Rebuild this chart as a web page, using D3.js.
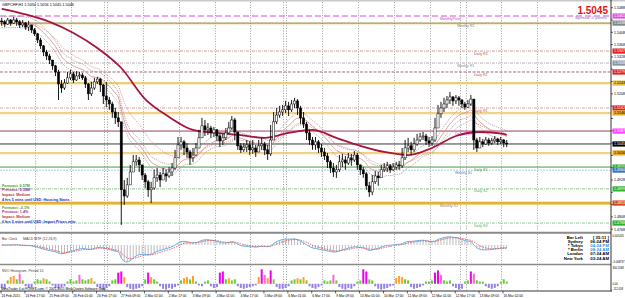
<!DOCTYPE html>
<html><head><meta charset="utf-8">
<script src="https://cdn.jsdelivr.net/npm/d3@7"></script>
<style>html,body{margin:0;padding:0;background:#fff;overflow:hidden}svg{display:block;font-family:"Liberation Sans",Arial,sans-serif}</style>
</head><body><svg id="c" width="625" height="298"></svg>
<script>
// ---------------- DATA ----------------
const title = "GBPCHF,H1  1.5050 1.5056 1.5045 1.5046";
const firstOpen = 1.5445;
const closes = [1.5442,1.5435,1.5448,1.5438,1.5448,1.5442,1.5432,1.5438,1.5425,1.5432,
1.5416,1.5403,1.5383,1.5364,1.5344,1.5331,1.5318,1.5299,1.5279,1.5240,
1.5227,1.5243,1.5260,1.5273,1.5253,1.5266,1.5269,1.5260,1.5240,1.5208,
1.5227,1.5247,1.5256,1.5237,1.5201,1.5188,1.5175,1.5149,1.5130,1.5117,
1.4896,1.4876,1.4912,1.4954,1.4987,1.4993,1.4977,1.4944,1.4922,1.4896,
1.4902,1.4935,1.4944,1.4928,1.4948,1.4941,1.4954,1.4967,1.5000,1.5042,
1.5052,1.5032,1.5019,1.5000,1.5009,1.5032,1.5065,1.5104,1.5091,1.5097,
1.5081,1.5091,1.5071,1.5055,1.5065,1.5081,1.5097,1.5123,1.5084,1.5039,
1.5026,1.5035,1.5042,1.5026,1.5032,1.5019,1.5039,1.5045,1.5026,1.5013,
1.5058,1.5117,1.5139,1.5149,1.5156,1.5169,1.5156,1.5175,1.5185,1.5162,
1.5130,1.5110,1.5081,1.5058,1.5042,1.5052,1.5032,1.5019,1.5006,1.4987,
1.4967,1.4954,1.4961,1.4987,1.4993,1.4983,1.5000,1.4993,1.5009,1.4977,
1.4961,1.4948,1.4909,1.4889,1.4922,1.4941,1.4935,1.4961,1.4967,1.4974,
1.4961,1.4970,1.4977,1.4974,1.5000,1.5032,1.5039,1.5026,1.5045,1.5058,
1.5068,1.5071,1.5055,1.5048,1.5058,1.5097,1.5143,1.5162,1.5175,1.5188,
1.5198,1.5185,1.5195,1.5188,1.5175,1.5165,1.5175,1.5191,1.5058,1.5032,
1.5052,1.5045,1.5058,1.5048,1.5055,1.5061,1.5052,1.5058,1.5048,1.5045];
const highs = [1.5455,1.5448,1.5455,1.5451,1.5458,1.5455,1.5448,1.5448,1.5442,1.5445,
1.5429,1.5422,1.5406,1.5390,1.5367,1.5351,1.5338,1.5318,1.5302,1.5286,
1.5253,1.5256,1.5279,1.5286,1.5279,1.5282,1.5279,1.5276,1.5266,1.5243,
1.5247,1.5260,1.5263,1.5260,1.5240,1.5247,1.5198,1.5182,1.5162,1.5149,
1.5107,1.4928,1.4935,1.4977,1.5009,1.5009,1.5003,1.4967,1.4951,1.4928,
1.4922,1.4961,1.4967,1.4954,1.4967,1.4961,1.4970,1.4983,1.5026,1.5068,
1.5068,1.5058,1.5048,1.5026,1.5032,1.5048,1.5091,1.5130,1.5123,1.5113,
1.5104,1.5100,1.5094,1.5078,1.5078,1.5097,1.5117,1.5136,1.5130,1.5084,
1.5048,1.5048,1.5058,1.5055,1.5058,1.5042,1.5058,1.5065,1.5052,1.5042,
1.5107,1.5149,1.5162,1.5169,1.5172,1.5185,1.5182,1.5188,1.5195,1.5191,
1.5169,1.5149,1.5117,1.5091,1.5068,1.5068,1.5058,1.5045,1.5032,1.5016,
1.4993,1.4983,1.4977,1.5009,1.5013,1.5006,1.5016,1.5013,1.5022,1.5016,
1.4977,1.4970,1.4954,1.4922,1.4944,1.4957,1.4954,1.4977,1.4983,1.4987,
1.4980,1.4983,1.4987,1.4990,1.5032,1.5058,1.5065,1.5052,1.5065,1.5078,
1.5081,1.5084,1.5078,1.5068,1.5071,1.5130,1.5172,1.5182,1.5195,1.5201,
1.5214,1.5201,1.5204,1.5201,1.5191,1.5182,1.5188,1.5204,1.5188,1.5065,
1.5068,1.5061,1.5068,1.5065,1.5065,1.5071,1.5065,1.5068,1.5061,1.5058];
const lows = [1.5429,1.5425,1.5432,1.5429,1.5435,1.5429,1.5422,1.5425,1.5416,1.5412,
1.5406,1.5396,1.5373,1.5354,1.5331,1.5318,1.5305,1.5286,1.5266,1.5188,
1.5211,1.5221,1.5240,1.5253,1.5243,1.5250,1.5256,1.5253,1.5227,1.5188,
1.5201,1.5221,1.5240,1.5214,1.5175,1.5165,1.5156,1.5130,1.5110,1.5100,
1.4782,1.4847,1.4870,1.4922,1.4961,1.4974,1.4954,1.4928,1.4902,1.4873,
1.4853,1.4896,1.4922,1.4905,1.4928,1.4922,1.4935,1.4941,1.4961,1.5009,
1.5026,1.5009,1.5000,1.4977,1.4987,1.5006,1.5039,1.5081,1.5071,1.5074,
1.5065,1.5068,1.5055,1.5035,1.5042,1.5058,1.5078,1.5091,1.5058,1.5026,
1.5016,1.5019,1.5019,1.5009,1.5013,1.5003,1.5019,1.5026,1.5009,1.4993,
1.5006,1.5091,1.5110,1.5130,1.5136,1.5146,1.5136,1.5149,1.5162,1.5139,
1.5110,1.5097,1.5058,1.5042,1.5026,1.5026,1.5016,1.5003,1.4993,1.4967,
1.4951,1.4938,1.4935,1.4954,1.4970,1.4961,1.4977,1.4974,1.4987,1.4961,
1.4944,1.4935,1.4896,1.4873,1.4879,1.4915,1.4909,1.4935,1.4954,1.4954,
1.4951,1.4957,1.4961,1.4961,1.4967,1.4993,1.5019,1.5009,1.5019,1.5039,
1.5052,1.5058,1.5042,1.5035,1.5039,1.5052,1.5097,1.5130,1.5149,1.5162,
1.5175,1.5169,1.5175,1.5169,1.5162,1.5156,1.5162,1.5169,1.5026,1.5019,
1.5032,1.5035,1.5042,1.5039,1.5042,1.5048,1.5042,1.5045,1.5035,1.5035];
// long moving average read every 8 bars (last one at final bar)
const longMA = [1.5484,1.5466,1.5442,1.5406,1.5357,1.5292,1.5191,1.5133,1.5091,1.5081,1.5074,1.5065,
1.5081,1.5091,1.5065,1.5039,1.5019,1.5009,1.5032,1.5071,1.5084,1.5078,1.5074];
const nvoHist = [-75,-90,60,120,140,80,180,60,-45,-75,-60,40,80,60,100,80,40,-30,-75,-90,
-60,-45,40,80,40,60,160,80,60,80,100,40,-60,-90,-105,-75,-45,60,80,200,
220,120,-60,-90,-105,-90,-75,-45,80,200,120,80,40,-45,-90,-105,-75,-90,-60,-30,
60,100,120,80,140,40,-30,-45,40,60,-45,-75,-60,200,220,80,100,60,80,-45,
-75,-90,-75,-60,-45,-30,120,260,160,100,240,80,-60,-90,-90,-75,-45,60,80,100,
80,120,60,-45,-75,-90,-60,-30,60,40,60,160,60,-60,-90,-105,-75,-90,-45,40,
60,260,220,80,60,-45,-90,-105,-90,-75,-45,-30,100,140,120,80,60,-60,-90,-75,
-60,-30,40,40,60,200,240,160,60,40,60,-45,-75,-105,-90,40,60,220,180,60,
40,40,-45,-75,-90,-75,-45,40,80,40];
const timeLabels = ["24 Feb 2015","24 Feb 17:00","25 Feb 09:00","26 Feb 01:00","26 Feb 17:00","27 Feb 09:00",
"2 Mar 01:00","2 Mar 17:00","3 Mar 09:00","4 Mar 01:00","4 Mar 17:00","5 Mar 09:00","6 Mar 01:00",
"6 Mar 17:00","9 Mar 09:00","10 Mar 01:00","10 Mar 17:00","11 Mar 09:00","12 Mar 01:00","12 Mar 17:00",
"13 Mar 09:00","16 Mar 02:00"];
const priceTicks = [1.5488,1.5448,1.5408,1.5368,1.5328,1.5288,1.5248,1.5208,1.5168,1.5128,1.5088,
1.5048,1.5008,1.4968,1.4928,1.4888,1.4848,1.4808,1.4768];
// hourly bar indices of day separators and extra separators
const dayBars = [23,47,71,95,119,143,167,191,215,239,263,287,311,335,359];
const extraBars = [69,189,307];
const levelPrices = [1.5461,1.5438,1.5347,1.5308,1.5279,1.5243,1.5162,1.5146,1.5087,1.5045,1.5016,1.4970,1.4960,1.4899,1.4853,1.4788];
const levelNames = ["MonthlyPivot","Weekly R2","Daily R3","Weekly R1","Daily R2","","Daily R1","","Daily Pivot","","","Daily S1","Weekly S1","Daily S2","Monthly S1","Daily S3"];
const newsLines = ["Forecast: 0.57M","Previous: 0.59M","Impact: Medium","4 hrs 5 mins until USD: Housing Starts",
"Forecast: -0.1%","Previous: 1.4%","Impact: Medium","6 hrs 5 mins until USD: Import Prices m/m"];
const clockNames = ["Bar Left","Sydney","* Tokyo","* Berlin","London","New York"];
const clockValues = ["[ 35:11 ]","06:24 PM","04:24 PM","08:24 AM","07:24 AM","03:24 AM"];
const bid = 1.5045;
const macdLabels = ["0.005426","-0.008737"];
const histLabels = ["300.5568","0.00","-112.058"];

// ---------------- STYLES ----------------
const levelStyle = [
 {c:"#e58ae5",w:1.3,d:"6,3",lc:"#d040d0",box:"#e050e0",bt:"#fff"},
 {c:"#8a7a3a",w:1,d:null,glow:"#f3e6a8",lc:"#777",box:"#808890",bt:"#fff"},
 {c:"#d59a9a",w:1,d:"3,1,1,1",lc:"#c05050",box:"#e02020",bt:"#fff"},
 {c:"#b4b4b4",w:1,d:"3,1,1,1",lc:"#888",box:"#8a96a4",bt:"#fff"},
 {c:"#a86878",w:1,d:"3,1.5",lc:"#c05050",box:"#e02020",bt:"#fff"},
 {c:"#e5bf4c",w:1.6,d:null,glow:"#f8eab0",box:"#e8c040",bt:"#000"},
 {c:"#dca2a2",w:1,d:"3,1,1,1",lc:"#c05050",box:"#e02020",bt:"#fff"},
 {c:"#e2b03c",w:1,d:null,glow:"#f6e4a8",box:"#e8a830",bt:"#000"},
 {c:"#a43a6a",w:1,d:null,lc:"#ff40ff",box:"#ff40ff",bt:"#fff"},
 {c:"#3a3a3a",w:1,d:null,box:"#000",bt:"#fff"},
 {c:"#e2b03c",w:1,d:null,glow:"#f6e4a8",box:"#e8a830",bt:"#000"},
 {c:"#3f9f3f",w:1,d:null,lc:"#3a9a3a",box:"#30b030",bt:"#fff"},
 {c:"#9cb8e0",w:0.8,d:"2,1",lc:"#4a7ad0",box:"#3c78c0",bt:"#fff"},
 {c:"#8ac48a",w:1,d:"3,1,1,1",lc:"#5aa05a",box:"#30b030",bt:"#fff"},
 {c:"#d89a20",w:2.6,d:null,glow:"#f4cc50",lc:"#888",box:"#d04a20",bt:"#fff"},
 {c:"#94cc94",w:1,d:"3,1,1,1",lc:"#5aa05a",box:"#30b030",bt:"#fff"}
];
const newsColors = ["#3c9a3c","#9a2c9a","#c03030","#1a2ad0","#3c9a3c","#9a2c9a","#c03030","#1a2ad0"];
const clockColors = ["#000","#000","#3a8ee0","#3a8ee0","#000","#000"];

// ---------------- LAYOUT ----------------
const W = 625, H = 298, plotR = 611;
const main = {t:2, b:231}, macdP = {t:234, b:263}, histP = {t:266, b:290};
const svg = d3.select("#c");
const xH = d3.scaleLinear().domain([0,400]).range([1, 1 + 1.494*400]);
const xBar = i => xH(2*i + 0.5);
const yP = d3.scaleLinear().domain([1.4768,1.5488]).range([229.2,7.7]);

svg.append("rect").attr("x",0).attr("y",0).attr("width",W).attr("height",H).attr("fill","#fff");
svg.append("rect").attr("x",0).attr("y",0).attr("width",W).attr("height",1.5).attr("fill","#c8c8c8");

const defs = svg.append("defs");
defs.append("clipPath").attr("id","cm").append("rect").attr("x",0).attr("y",main.t).attr("width",plotR).attr("height",main.b-main.t);
defs.append("clipPath").attr("id","cmacd").append("rect").attr("x",0).attr("y",macdP.t).attr("width",plotR).attr("height",macdP.b-macdP.t);
defs.append("clipPath").attr("id","chist").append("rect").attr("x",0).attr("y",histP.t).attr("width",plotR).attr("height",histP.b-histP.t);

// vertical grid
const grid = svg.append("g");
[[main.t,main.b],[macdP.t,macdP.b],[histP.t,histP.b]].forEach(([t,b])=>{
  grid.selectAll(null).data(dayBars.concat(extraBars)).enter().append("line")
   .attr("x1",d=>Math.round(xH(d))+0.5).attr("x2",d=>Math.round(xH(d))+0.5)
   .attr("y1",t).attr("y2",b).attr("stroke","#8c8c8c").attr("stroke-width",0.8).attr("stroke-dasharray","1,1.6");
});

// ---------------- MAIN PANEL ----------------
const gm = svg.append("g").attr("clip-path","url(#cm)");
levelPrices.forEach((p,i)=>{
  const s = levelStyle[i], y = yP(p);
  if (s.glow) gm.append("line").attr("x1",0).attr("x2",plotR).attr("y1",y+1).attr("y2",y+1).attr("stroke",s.glow).attr("stroke-width",1);
  const l = gm.append("line").attr("x1",0).attr("x2",plotR).attr("y1",y).attr("y2",y).attr("stroke",s.c).attr("stroke-width",s.w);
  if (s.d) l.attr("stroke-dasharray",s.d);
  if (i===14) gm.append("line").attr("x1",0).attr("x2",plotR).attr("y1",y).attr("y2",y).attr("stroke","#f2c84a").attr("stroke-width",1);
});
const labX = {"MonthlyPivot":440,"Weekly R2":457,"Weekly R1":457,"Weekly S1":455,"Monthly S1":440,"Daily Pivot":455};
levelPrices.forEach((p,i)=>{
  const n = levelNames[i]; if (!n) return;
  const x = labX[n] !== undefined ? labX[n] : 474;
  gm.append("text").attr("x",x).attr("y",yP(p)+3.6).attr("font-size",3.6).attr("fill",levelStyle[i].lc||"#888").text(n);
});

function ema(arr,n){const a=2/(n+1);let prev=arr[0];return arr.map((v,i)=>{prev=i===0?v:a*v+(1-a)*prev;return prev;});}
const ema14 = ema(closes,14), ema24 = ema(closes,24);
const lineBar = d3.line().x((d,i)=>xBar(i)).y(d=>yP(d)).curve(d3.curveMonotoneX);
gm.append("path").attr("d",lineBar(ema24)).attr("fill","none").attr("stroke","#d88c8c").attr("stroke-width",0.8).attr("stroke-dasharray","1.2,1");
gm.append("path").attr("d",lineBar(ema14.map(v=>v*1.0012))).attr("fill","none").attr("stroke","#9a9a9a").attr("stroke-width",0.8).attr("stroke-dasharray","1.2,1");
gm.append("path").attr("d",lineBar(ema14.map(v=>v*0.9988))).attr("fill","none").attr("stroke","#9a9a9a").attr("stroke-width",0.8).attr("stroke-dasharray","1.2,1");
gm.append("path").attr("d",lineBar(ema14)).attr("fill","none").attr("stroke","#e29090").attr("stroke-width",0.9);
const maIdx = longMA.map((v,k)=>Math.min(8*k, closes.length-1));
gm.append("path").attr("d",d3.line().x((d,k)=>xBar(maIdx[k])).y(d=>yP(d)).curve(d3.curveMonotoneX)(longMA))
  .attr("fill","none").attr("stroke","#a8143e").attr("stroke-width",1.8);

const bars = closes.map((c,i)=>{const o = i?closes[i-1]:firstOpen;return {o,c,h:Math.max(highs[i],o,c),l:Math.min(lows[i],o,c)};});
const cg = gm.append("g");
cg.selectAll(".w").data(bars).enter().append("line")
  .attr("x1",(d,i)=>xBar(i)).attr("x2",(d,i)=>xBar(i)).attr("y1",d=>yP(d.h)).attr("y2",d=>yP(d.l))
  .attr("stroke","#000").attr("stroke-width",0.9);
cg.selectAll(".b").data(bars).enter().append("rect")
  .attr("x",(d,i)=>xBar(i)-1.1).attr("width",2.2)
  .attr("y",d=>yP(Math.max(d.o,d.c))).attr("height",d=>Math.max(0.7,Math.abs(yP(d.o)-yP(d.c))))
  .attr("fill",d=>d.c>=d.o?"#fff":"#000").attr("stroke","#000").attr("stroke-width",0.5);

newsLines.forEach((t,i)=>{
  const y = (i<4? 186.5 + i*4.8 : 208.5 + (i-4)*4.8);
  gm.append("text").attr("x",2).attr("y",y).attr("font-size",3.7).attr("font-weight","bold").attr("fill",newsColors[i]).text(t);
});
svg.append("text").attr("x",2).attr("y",6).attr("font-size",3.8).attr("fill","#000").text(title);
svg.append("text").attr("x",608).attr("y",14).attr("text-anchor","end").attr("font-size",10).attr("font-weight","bold").attr("fill","#e01414").text(bid.toFixed(4));
svg.append("text").attr("x",607).attr("y",18.6).attr("text-anchor","end").attr("font-size",4.4).attr("fill","#7a7aa8").text("Spread: 0 points");

// ---------------- MACD PANEL ----------------
const fast = ema(closes,6), slow = ema(closes,13);
const macd = fast.map((v,i)=>v-slow[i]);
const signal = ema(macd,5);
const yM = d3.scaleLinear().domain([d3.min(macd),0]).range([262,245]);
const gmc = svg.append("g").attr("clip-path","url(#cmacd)");
gmc.selectAll(null).data(macd).enter().append("line")
  .attr("x1",(d,i)=>xBar(i)).attr("x2",(d,i)=>xBar(i)).attr("y1",yM(0)).attr("y2",d=>yM(d))
  .attr("stroke","#b4b4b4").attr("stroke-width",0.9);
gmc.append("path").attr("d",d3.line().x((d,i)=>xBar(i)).y(d=>yM(d)).curve(d3.curveMonotoneX)(macd)).attr("fill","none").attr("stroke","#5aa8e6").attr("stroke-width",0.9);
gmc.append("path").attr("d",d3.line().x((d,i)=>xBar(i)).y(d=>yM(d)).curve(d3.curveMonotoneX)(signal)).attr("fill","none").attr("stroke","#e06060").attr("stroke-width",0.9).attr("stroke-dasharray","1.5,1");
svg.append("text").attr("x",2).attr("y",239.5).attr("font-size",3.5).attr("fill","#444").text("Bar Clock");
svg.append("text").attr("x",23).attr("y",239.5).attr("font-size",3.5).attr("fill","#444").text("MACD MTF (12,26,9)");
clockNames.forEach((n,i)=>{
  const y = 239 + i*4.1;
  svg.append("text").attr("x",583).attr("y",y).attr("text-anchor","end").attr("font-size",4.3).attr("font-weight","bold").attr("fill",i===2||i===3?"#000":clockColors[i]).text(n);
  svg.append("text").attr("x",609).attr("y",y).attr("text-anchor","end").attr("font-size",4.3).attr("font-weight","bold").attr("fill",clockColors[i]).text(clockValues[i]);
});

// ---------------- HISTOGRAM PANEL ----------------
const yHs = d3.scaleLinear().domain([-112.058,300.5568]).range([290,267]);
const hColor = v => v<0?"#9482e2": v<90?"#66cc33": v<150?"#ffa020": v<200?"#ff66cc":"#ee00ee";
const gh = svg.append("g").attr("clip-path","url(#chist)");
gh.selectAll(null).data(nvoHist).enter().append("rect")
  .attr("x",(d,i)=>xBar(i)-1).attr("width",2)
  .attr("y",d=>Math.min(yHs(0),yHs(d))).attr("height",d=>Math.abs(yHs(d)-yHs(0)))
  .attr("fill",d=>hColor(d));
svg.append("text").attr("x",2).attr("y",271.5).attr("font-size",3.5).attr("fill","#444").text("NVO Histogram, Period 10");
svg.append("text").attr("x",1).attr("y",289.6).attr("font-size",3.3).attr("fill","#000").text("MetaTrader 4 at FOREX.com, \u00a9 2001-2015 MetaQuotes Software Corp.");

[[232.8,2],[264.5,1.6]].forEach(([y,w])=>svg.append("line").attr("x1",0).attr("x2",plotR).attr("y1",y).attr("y2",y).attr("stroke","#8a8a8a").attr("stroke-width",w));
svg.append("line").attr("x1",0).attr("x2",plotR+1).attr("y1",291).attr("y2",291).attr("stroke","#000").attr("stroke-width",0.8);
svg.append("line").attr("x1",plotR).attr("x2",plotR).attr("y1",0).attr("y2",291).attr("stroke","#000").attr("stroke-width",0.8);

// ---------------- AXES ----------------
timeLabels.forEach((t,k)=>{
  const x = xH(16*k);
  svg.append("line").attr("x1",x).attr("x2",x).attr("y1",291).attr("y2",293.5).attr("stroke","#000").attr("stroke-width",0.6);
  svg.append("text").attr("x",x+0.5).attr("y",296.8).attr("font-size",3.3).attr("fill","#000").text(t);
});
const pa = svg.append("g");
const boxYs = levelPrices.map(p=>yP(p));
priceTicks.forEach(p=>{
  const y = yP(p);
  pa.append("line").attr("x1",plotR).attr("x2",plotR+2).attr("y1",y).attr("y2",y).attr("stroke","#000").attr("stroke-width",0.6);
  if (boxYs.some(b=>Math.abs(b-y)<5.6)) return;
  pa.append("text").attr("x",plotR+3).attr("y",y+1.3).attr("font-size",3.6).attr("fill","#000").text(p.toFixed(4));
});
levelPrices.forEach((p,i)=>{
  const y = yP(p), s = levelStyle[i];
  pa.append("rect").attr("x",plotR+1.5).attr("y",y-2.6).attr("width",14).attr("height",5.2).attr("fill",s.box);
  pa.append("text").attr("x",plotR+3).attr("y",y+1.3).attr("font-size",3.6).attr("fill",s.bt).text(p.toFixed(4));
});
[[macdLabels[0],236.5],[macdLabels[1],262.5]].forEach(([t,y])=>svg.append("text").attr("x",plotR+1.5).attr("y",y).attr("font-size",2.7).attr("fill","#000").text(t));
[[histLabels[0],269],[histLabels[1],yHs(0)+1.2],[histLabels[2],289.5]].forEach(([t,y])=>svg.append("text").attr("x",plotR+1.5).attr("y",y).attr("font-size",2.7).attr("fill","#000").text(t));
</script></body></html>
